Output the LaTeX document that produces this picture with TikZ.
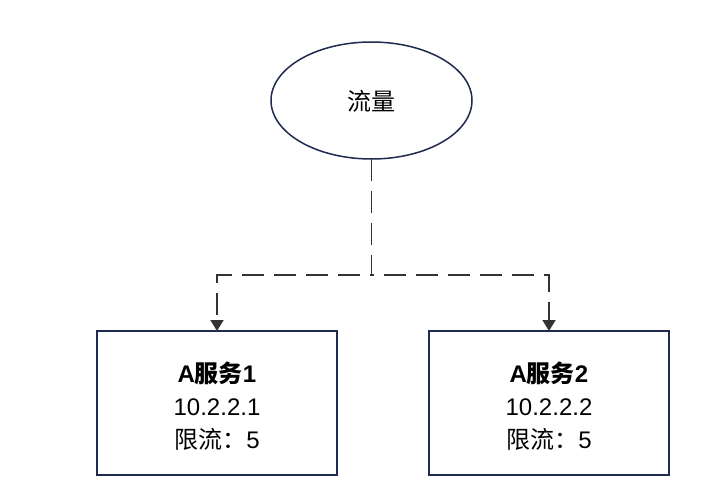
\documentclass[tikz,border=0pt]{standalone}
\usepackage{fontspec}
\setmainfont{Liberation Sans}
\newfontfamily\cjk{Noto Sans CJK SC}
\usetikzlibrary{shapes.geometric,arrows.meta}
\definecolor{navy}{HTML}{1F2A50}
\definecolor{dashcol}{HTML}{333333}
\begin{document}
\begin{tikzpicture}[x=1pt,y=-1pt,
  every node/.style={inner sep=0pt, outer sep=0pt},
  flow/.style={ellipse, draw=navy, line width=1.5pt, minimum width=201pt, minimum height=117pt},
  svc/.style={rectangle, draw=navy, line width=1.5pt, minimum width=240pt, minimum height=144pt},
  txt/.style={align=center, font=\fontsize{24}{33}\selectfont},
  link/.style={draw=dashcol, line width=1.7pt, dash pattern=on 22pt off 10pt, -{Triangle[width=13pt,length=11pt]}}
]
\useasboundingbox[fill=white] (0,0) rectangle (702,498);
\node[flow] (f) at (371.5,100.5) {};
\node[txt] (ft) at (371.5,101.5) {\cjk 流量};
\node[svc] (a1) at (217,403) {};
\node[txt] (a1t) at (217,406) {{\bfseries A{\cjk 服务}1}\\10.2.2.1\\{\cjk 限流：}5};
\node[svc] (a2) at (549,403) {};
\node[txt] (a2t) at (549,406) {{\bfseries A{\cjk 服务}2}\\10.2.2.2\\{\cjk 限流：}5};
\coordinate (j) at (371.5,275);
\draw[link] (f.south) -- (j) -| (a1.north);
\draw[link] (f.south) -- (j) -| (a2.north);
\end{tikzpicture}
\end{document}
